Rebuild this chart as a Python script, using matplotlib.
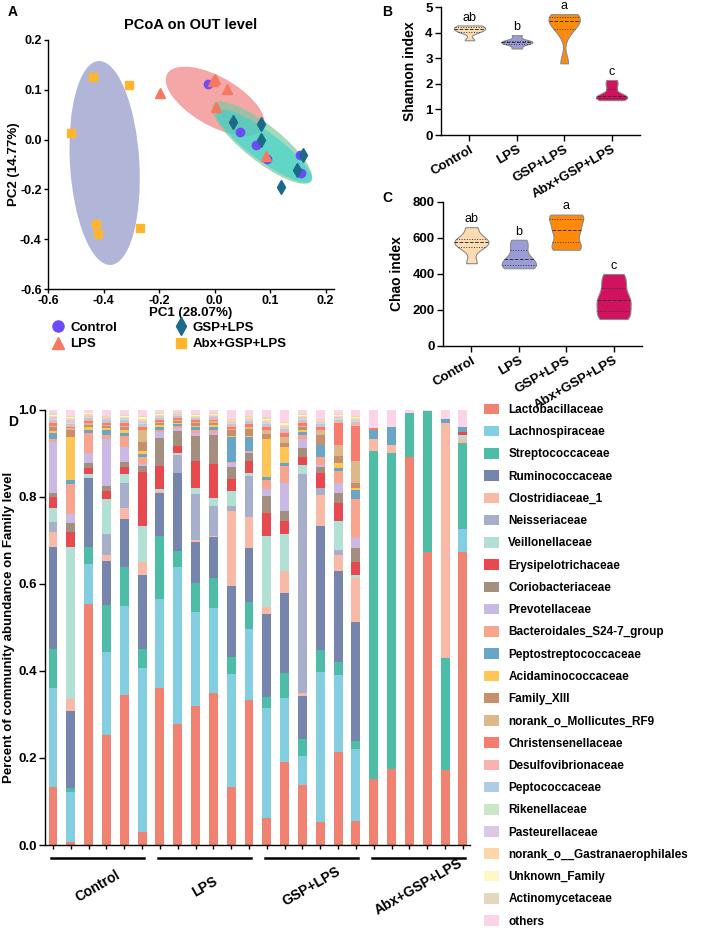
import numpy as np
import matplotlib
matplotlib.use('Agg')
import matplotlib.pyplot as plt
from matplotlib.patches import Ellipse, Patch
from matplotlib.lines import Line2D
import matplotlib.transforms as mtransforms

plt.rcParams['font.family'] = ['Liberation Sans', 'DejaVu Sans']
plt.rcParams['font.weight'] = 'bold'
plt.rcParams['axes.labelweight'] = 'bold'
plt.rcParams['axes.linewidth'] = 1.0

# ---------------- data ----------------
groups = ['Control', 'LPS', 'GSP+LPS', 'Abx+GSP+LPS']

# PCoA coordinates (axis drawn with evenly spaced ticks, labelled as in the figure)
pc_control_x = [-0.012, 0.046, 0.074, 0.095, 0.153, 0.155]
pc_control_y = [0.111, 0.016, -0.010, -0.039, -0.031, -0.068]
pc_lps_x = [-0.099, 0.001, 0.023, 0.003, 0.092, -0.002]
pc_lps_y = [0.094, 0.122, 0.102, 0.066, -0.033, 0.117]
pc_gsp_x = [0.034, 0.084, 0.083, 0.159, 0.148, 0.120]
pc_gsp_y = [0.036, 0.032, 0.000, -0.031, -0.061, -0.096]
pc_abx_x = [-0.219, -0.154, -0.258, -0.214, -0.210, -0.134]
pc_abx_y = [0.126, 0.110, 0.014, -0.169, -0.189, -0.177]
pc_xticks = [-0.3, -0.2, -0.1, 0.0, 0.1, 0.2]
pc_xticklabels = ['-0.6', '-0.4', '-0.2', '0.0', '0.1', '0.2']
pc_yticks = [0.2, 0.1, 0.0, -0.1, -0.2, -0.3]
pc_yticklabels = ['0.2', '0.1', '0.0', '-0.2', '-0.4', '-0.6']

# Shannon / Chao per sample
shannon_control = [3.70, 4.02, 4.10, 4.15, 4.24, 4.28]
shannon_lps = [3.38, 3.56, 3.61, 3.64, 3.70, 3.90]
shannon_gsp = [2.80, 4.05, 4.40, 4.50, 4.62, 4.72]
shannon_abx = [1.36, 1.45, 1.50, 1.56, 1.90, 2.15]
chao_control = [460, 545, 570, 582, 600, 660]
chao_lps = [432, 440, 470, 492, 545, 590]
chao_gsp = [535, 560, 625, 665, 720, 730]
chao_abx = [150, 180, 240, 270, 340, 400]
shannon_letters = ['ab', 'b', 'a', 'c']
chao_letters = ['ab', 'b', 'a', 'c']

# community composition, 24 samples (6 per group)
lactobacillaceae = [.133, .007, .554, .253, .345, .03, .36, .278, .32, .35, .133, .333, .062, .19, .138, .053, .214, .055, .152, .175, .892, .673, .172, .673]
lachnospiraceae = [.227, .115, .092, .191, .205, .377, .206, .361, .215, .194, .26, .164, .253, .148, .067, .345, .176, .166, 0, 0, 0, 0, 0, .053]
streptococcaceae = [.09, .008, .039, .108, .09, .043, .144, .037, .068, .069, .039, .062, .025, .057, .039, .05, .03, .018, .754, .726, .1, .325, .258, .198]
ruminococcaceae = [.235, .178, .158, .101, .11, .17, .10, .179, .094, .095, .163, .123, .191, .185, .099, .285, .21, .274, 0, 0, 0, 0, 0, 0]
clostridiaceae_1 = [.035, .027, 0, .014, .025, .03, .004, 0, .004, .002, .173, .072, .016, .05, .006, .072, .037, .101, .027, .019, 0, 0, .54, .01]
neisseriaceae = [.022, 0, 0, .048, .057, 0, 0, .041, .107, .07, .012, .094, 0, 0, .504, .015, .011, 0, 0, 0, 0, 0, 0, 0]
veillonellaceae = [.033, .35, .01, .08, .021, .083, .004, .004, .012, .017, .034, .007, .163, .086, .021, 0, .067, .006, 0, 0, 0, 0, 0, .008]
erysipelotrichaceae = [.025, .035, .014, .019, .016, .125, .053, .017, .063, .079, .027, .028, .053, .029, .018, .035, .041, .03, 0, 0, 0, 0, 0, .008]
coriobacteriaceae = [.01, .02, .011, .012, .011, .013, .064, .035, .057, .067, .027, .018, .04, .023, .021, .014, .023, .033, 0, 0, 0, 0, 0, 0]
prevotellaceae = [.116, .02, .023, .107, .035, .004, .015, .006, .007, .004, .01, .002, .015, .065, .02, .004, .023, .023, 0, 0, 0, 0, 0, 0]
bacteroidales_s24_7 = [.007, .07, .046, .009, .025, .017, .005, .005, .006, .006, .003, .003, .021, .038, .01, .019, .028, .089, 0, 0, 0, 0, 0, 0]
peptostreptococcaceae = [.014, .01, .008, .012, .008, .007, .006, .005, .007, .008, .057, .032, .007, .007, .006, .028, .007, .021, .021, .04, 0, 0, .01, .01]
acidaminococcaceae = [.005, .098, .005, .004, .006, .007, .004, .003, .004, .004, .003, .003, .087, .037, .005, 0, .011, .004, 0, 0, 0, 0, 0, 0]
family_xiii = [.008, .016, .006, .005, .006, .02, .005, .004, .005, .006, .012, .015, .012, .009, .006, .023, .016, .012, 0, 0, 0, 0, 0, 0]
mollicutes_rf9 = [.004, .004, .004, .003, .004, .028, .003, .003, .003, .003, .004, .005, .009, .014, .004, .011, .026, .051, 0, 0, 0, 0, 0, 0]
christensenellaceae = [.006, .004, .005, .004, .005, .006, .004, .004, .004, .004, .005, .006, .006, .009, .006, .006, .05, .08, .005, 0, 0, 0, 0, 0]
desulfovibrionaceae = [.004, .003, .004, .003, .004, .004, .003, .003, .003, .003, .003, .004, .004, .005, .004, .004, .005, .006, 0, 0, 0, 0, 0, 0]
peptococcaceae = [.003, .003, .003, .003, .003, .004, .002, .002, .002, .002, .003, .003, .003, .004, .003, .003, .003, .003, 0, 0, 0, 0, 0, 0]
rikenellaceae = [.003, .003, .003, .002, .003, .003, .002, .002, .002, .002, .002, .003, .003, .003, .003, .003, .003, .003, 0, 0, 0, 0, 0, 0]
pasteurellaceae = [.004, .006, .002, .003, .003, .003, .003, .002, .002, .002, .003, .003, .003, .003, .003, .003, .003, .003, 0, 0, 0, 0, 0, 0]
gastranaerophilales = [.003, .004, .003, .002, .003, .006, .002, .002, .002, .002, .003, .003, .004, .004, .003, .003, .003, .003, 0, 0, 0, 0, 0, 0]
unknown_family = [.002, .002, .002, .002, .002, .004, .001, .001, .001, .001, .002, .002, .003, .003, .002, .002, .002, .002, 0, 0, 0, 0, 0, 0]
actinomycetaceae = [.003, .003, .002, .002, .002, .003, .002, .002, .002, .002, .002, .002, .003, .003, .002, .002, .002, .003, 0, 0, 0, 0, 0, 0]
others = [.008, .014, .006, .013, .011, .013, .008, .004, .01, .008, .02, .013, .017, .028, .01, .02, .009, .014, .041, .04, .008, .002, .02, .04]

family_names = ['Lactobacillaceae', 'Lachnospiraceae', 'Streptococcaceae', 'Ruminococcaceae',
                'Clostridiaceae_1', 'Neisseriaceae', 'Veillonellaceae', 'Erysipelotrichaceae',
                'Coriobacteriaceae', 'Prevotellaceae', 'Bacteroidales_S24-7_group',
                'Peptostreptococcaceae', 'Acidaminococcaceae', 'Family_XIII',
                'norank_o_Mollicutes_RF9', 'Christensenellaceae', 'Desulfovibrionaceae',
                'Peptococcaceae', 'Rikenellaceae', 'Pasteurellaceae',
                'norank_o__Gastranaerophilales', 'Unknown_Family', 'Actinomycetaceae', 'others']
family_values = [lactobacillaceae, lachnospiraceae, streptococcaceae, ruminococcaceae,
                 clostridiaceae_1, neisseriaceae, veillonellaceae, erysipelotrichaceae,
                 coriobacteriaceae, prevotellaceae, bacteroidales_s24_7,
                 peptostreptococcaceae, acidaminococcaceae, family_xiii,
                 mollicutes_rf9, christensenellaceae, desulfovibrionaceae,
                 peptococcaceae, rikenellaceae, pasteurellaceae,
                 gastranaerophilales, unknown_family, actinomycetaceae, others]
family_colors = ['#F08272', '#84CEE2', '#4DBDA8', '#7585AD', '#F8B9A6', '#A8AFCB',
                 '#B3E0D4', '#E8494F', '#A38E80', '#CBB9E5', '#F9A48C', '#69A5C6',
                 '#FFC655', '#C98F6C', '#DDB888', '#F77C6E', '#F9B2B0', '#AECCE6',
                 '#C9E7C7', '#DCC8E4', '#FDD7A8', '#FEF8C6', '#E3D7BE', '#FCD3E7']

# ---------------- figure ----------------
W, H = 708, 931
fig = plt.figure(figsize=(W / 100, H / 100), dpi=100)


def px_axes(l, t, r, b):
    return fig.add_axes([l / W, 1 - b / H, (r - l) / W, (b - t) / H])


def style(ax, size=9.5, length=4, pad=2):
    ax.spines['top'].set_visible(False)
    ax.spines['right'].set_visible(False)
    ax.tick_params(direction='out', length=length, width=1, labelsize=size, pad=pad)
    for lab in ax.get_xticklabels() + ax.get_yticklabels():
        lab.set_fontweight('bold')


# ---- A: PCoA ----
axA = px_axes(48, 40, 334, 289)
axA.set_xlim(-0.3, 0.215)
axA.set_ylim(-0.3, 0.2)
ell = [(-0.198, -0.047, 0.125, 0.41, 3, '#9EA3CF', 0.8),
       (0.001, 0.077, 0.205, 0.095, -34, '#F28A8A', 0.75),
       (0.0855, -0.006, 0.235, 0.07, -42, '#7CC9A0', 0.7),
       (0.089, -0.013, 0.22, 0.055, -40, '#2BD5D0', 0.55)]
for cx, cy, w, h, ang, c, a in ell:
    axA.add_patch(Ellipse((cx, cy), w, h, angle=ang, facecolor=c, edgecolor='none', alpha=a))
pc_sets = [(pc_control_x, pc_control_y, 'o', '#6E4BFA', 6),
           (pc_lps_x, pc_lps_y, '^', '#F5785F', 7),
           (pc_gsp_x, pc_gsp_y, 'd', '#1B6A8C', 7),
           (pc_abx_x, pc_abx_y, 's', '#FFB52E', 5.5)]
handles = []
for (xs, ys, m, c, ms), g in zip(pc_sets, groups):
    axA.plot(xs, ys, linestyle='none', marker=m, color=c, ms=ms, zorder=5)
    handles.append(Line2D([], [], linestyle='none', marker=m, color=c, ms=ms + 2, label=g))
axA.set_xticks(pc_xticks)
axA.set_xticklabels(pc_xticklabels)
axA.set_yticks(pc_yticks)
axA.set_yticklabels(pc_yticklabels)
style(axA, 9, length=3, pad=1.5)
axA.set_title('PCoA on OUT level', fontsize=10.5, fontweight='bold', pad=8)
axA.set_xlabel('PC1 (28.07%)', fontsize=9.5, labelpad=0)
axA.set_ylabel('PC2 (14.77%)', fontsize=9.5, labelpad=0)
fig.legend(handles=handles, loc='upper left', bbox_to_anchor=(40 / W, 1 - 310 / H), ncol=2,
           frameon=False, handlelength=1.0, handletextpad=0.4, columnspacing=4.3,
           labelspacing=0.3, prop={'weight': 'bold', 'size': 9.5})


# ---- B, C: violins ----
def violin(ax, data, letters, ylim, yticks, ylabel, widths):
    pos = [1, 2, 3, 4]
    colors = ['#FDDCB2', '#9A9CD6', '#FF8A0A', '#D1125F']
    parts = ax.violinplot(data, positions=pos, widths=widths, showextrema=False,
                          bw_method=0.45)
    for body, c, p, d in zip(parts['bodies'], colors, pos, data):
        body.set_facecolor(c)
        body.set_edgecolor('#8a8a8a')
        body.set_linewidth(0.8)
        body.set_alpha(1)
        v = body.get_paths()[0].vertices
        right = v[v[:, 0] >= p]
        order = np.argsort(right[:, 1])
        ys, xs = right[order, 1], right[order, 0]
        q1, med, q3 = np.percentile(d, [25, 50, 75])
        for yv, ls in [(q1, ':'), (med, '--'), (q3, ':')]:
            hw = np.interp(yv, ys, xs) - p
            ax.plot([p - hw, p + hw], [yv, yv], color='#333333', lw=0.7, ls=ls)
    span = ylim[1] - ylim[0]
    for p, d, t in zip(pos, data, letters):
        ax.text(p, max(d) + span * 0.015, t, ha='center', va='bottom', fontsize=9,
                fontweight='normal')
    ax.set_xlim(0.4, 4.6)
    ax.set_ylim(*ylim)
    ax.set_yticks(yticks)
    ax.set_xticks(pos)
    ax.set_xticklabels(groups, rotation=30, ha='right', rotation_mode='anchor')
    style(ax)
    ax.set_ylabel(ylabel, fontsize=10, labelpad=6)


axB = px_axes(441, 7, 640, 135)
violin(axB, [shannon_control, shannon_lps, shannon_gsp, shannon_abx], shannon_letters,
       (0, 5), [0, 1, 2, 3, 4, 5], 'Shannon index', 0.66)
axC = px_axes(443, 202, 642, 346)
violin(axC, [chao_control, chao_lps, chao_gsp, chao_abx], chao_letters,
       (0, 800), [0, 200, 400, 600, 800], 'Chao index', 0.72)

# ---- D: stacked bars ----
axD = px_axes(45, 410, 470, 845)
n = len(lactobacillaceae)
xpos = np.arange(n)
bottom = np.zeros(n)
for vals, c in zip(family_values, family_colors):
    axD.bar(xpos, vals, bottom=bottom, width=0.5, color=c, edgecolor='none')
    bottom += np.array(vals)
axD.set_xlim(-0.45, 23.4)
axD.set_ylim(0, 1.0)
axD.set_yticks([0.0, 0.2, 0.4, 0.6, 0.8, 1.0])
axD.set_yticklabels(['0.0', '0.2', '0.4', '0.6', '0.8', '1.0'])
axD.set_xticks(xpos)
axD.set_xticklabels([])
style(axD)
axD.tick_params(axis='x', length=3)
axD.set_ylabel('Percent of community abundance on Family level', fontsize=9.5, labelpad=2)
trans = mtransforms.blended_transform_factory(axD.transData, axD.transAxes)
for gi, g in enumerate(groups):
    i0, i1 = gi * 6, gi * 6 + 5
    axD.plot([i0 - 0.1, i1 + 0.1], [-0.03, -0.03], color='black', lw=1.8,
             transform=trans, clip_on=False)
    axD.text((i0 + i1) / 2, -0.095, g, transform=trans, rotation=30, ha='center',
             va='center', fontsize=10, fontweight='bold')

legend_handles = [Patch(facecolor=c, edgecolor='none', label=nm)
                  for nm, c in zip(family_names, family_colors)]
fig.legend(handles=legend_handles, loc='upper left', bbox_to_anchor=(473 / W, 1 - 393 / H),
           frameon=False, handlelength=1.3, handleheight=1.0, handletextpad=0.8,
           labelspacing=0.84, prop={'weight': 'bold', 'size': 8.5})

# panel letters
for lab, x, y in [('A', 8, 12), ('B', 382, 12), ('C', 382, 198), ('D', 8, 422)]:
    fig.text(x / W, 1 - y / H, lab, fontsize=10, fontweight='bold', va='center')

fig.savefig('out.png', dpi=100)
